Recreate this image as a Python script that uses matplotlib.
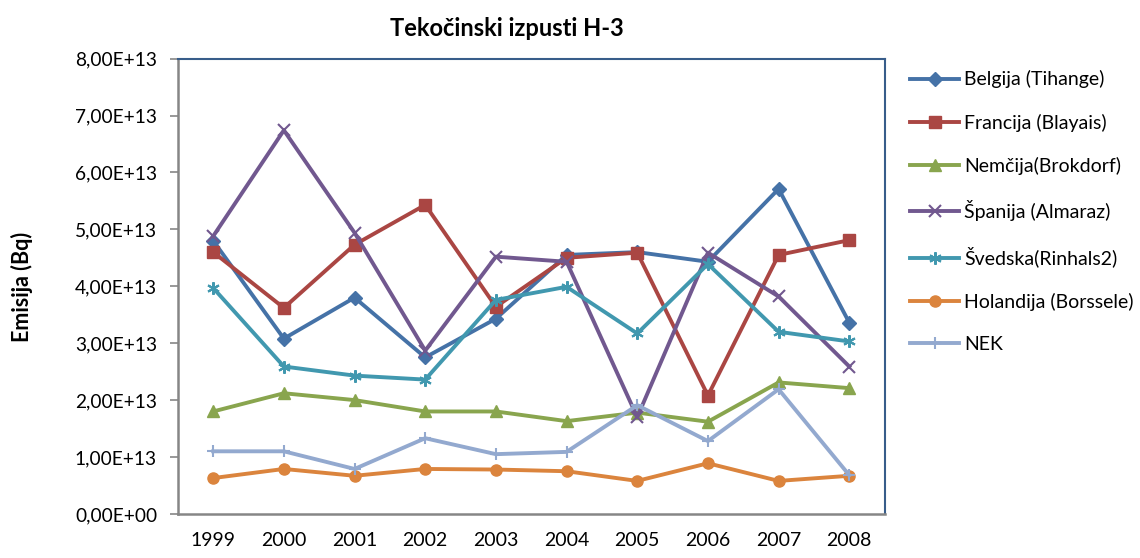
import numpy as np
import matplotlib.pyplot as plt
from matplotlib.ticker import FuncFormatter


# -----------------------------
# DATA (values in 1e13 Bq)
# -----------------------------
years = ["1999", "2000", "2001", "2002", "2003", "2004", "2005", "2006", "2007", "2008"]

belgija = [4.80, 3.08, 3.80, 2.75, 3.43, 4.55, 4.60, 4.43, 5.71, 3.36]
francija = [4.60, 3.62, 4.73, 5.43, 3.64, 4.50, 4.59, 2.08, 4.55, 4.81]
nemcija = [1.80, 2.12, 2.00, 1.80, 1.80, 1.63, 1.78, 1.62, 2.31, 2.21]
spanija = [4.88, 6.74, 4.94, 2.87, 4.52, 4.43, 1.70, 4.59, 3.82, 2.59]
svedska = [3.97, 2.59, 2.43, 2.36, 3.76, 3.99, 3.17, 4.39, 3.20, 3.03]
holandija = [0.63, 0.79, 0.67, 0.79, 0.78, 0.75, 0.58, 0.89, 0.58, 0.67]
nek = [1.10, 1.10, 0.79, 1.33, 1.05, 1.09, 1.91, 1.28, 2.19, 0.68]

labels = [
    "Belgija (Tihange)",
    "Francija (Blayais)",
    "Nemčija(Brokdorf)",
    "Španija (Almaraz)",
    "Švedska(Rinhals2)",
    "Holandija (Borssele)",
    "NEK",
]

plt.rcParams["font.family"] = ["Lato", "DejaVu Sans"]

series = [belgija, francija, nemcija, spanija, svedska, holandija, nek]
colors = ["#4572A7", "#AA4643", "#89A54E", "#71588F", "#4198AF", "#DB843D", "#93A9CF"]
markers = ["D", "s", "^", "x", (6, 2, 0), "o", "+"]
msizes = [7, 9, 9, 9, 9, 8, 9]

fig = plt.figure(figsize=(11.4, 5.58), dpi=100)
ax = fig.add_axes([0.156, 0.079, 0.620, 0.816])

x = np.arange(len(years))
for vals, lab, c, m, ms in zip(series, labels, colors, markers, msizes):
    ax.plot(x, np.array(vals) * 1e13, color=c, lw=2.8, marker=m, markersize=ms,
            markeredgewidth=1.5 if m in ("x", "+") or isinstance(m, tuple) else 1,
            markeredgecolor=c, label=lab)

ax.set_xlim(-0.5, len(years) - 0.5)
ax.set_ylim(0, 8e13)
ax.set_yticks(np.arange(0, 9) * 1e13)
ax.yaxis.set_major_formatter(FuncFormatter(lambda v, p: f"{v:.2E}".replace(".", ",")))
ax.set_xticks(x)
ax.set_xticklabels(years)

ax.tick_params(axis="x", length=0, pad=13, labelsize=14)
ax.tick_params(axis="y", length=6, width=1.2, color="#868686", pad=9, labelsize=13.8)

for s in ("left", "bottom"):
    ax.spines[s].set_color("#868686")
    ax.spines[s].set_linewidth(1.8)
for s in ("top", "right"):
    ax.spines[s].set_color("#385D8A")
    ax.spines[s].set_linewidth(1.5)

fig.text(22 / 1140, 0.485, "Emisija (Bq)", rotation=90, ha="center", va="center",
         fontsize=15.5, fontweight="bold")
fig.text(507 / 1140, 1 - 28 / 558, "Tekočinski izpusti H-3", ha="center", va="center",
         fontsize=17, fontweight="bold")

ax.legend(loc="upper left", bbox_to_anchor=(1.02, 1.0), frameon=False,
          fontsize=14, labelspacing=1.3, handlelength=2.5, handletextpad=0.25,
          borderaxespad=0.2)

fig.savefig("out.png", dpi=100)
